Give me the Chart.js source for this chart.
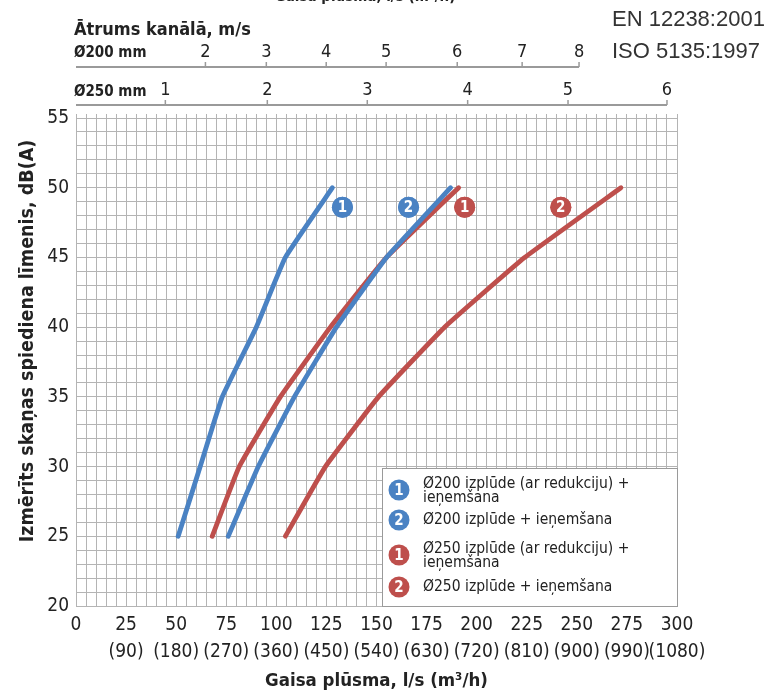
<!DOCTYPE html>
<html>
<head>
<meta charset="utf-8">
<script src="https://cdn.jsdelivr.net/npm/chart.js@4.4.1/dist/chart.umd.min.js"></script>
<style>
  html, body { margin: 0; padding: 0; background: #fff; }
  #wrap { width: 766px; height: 691px; }
</style>
</head>
<body>
<div id="wrap"><canvas id="chart"></canvas></div>
<script>
// Skaņas līmenis, dB(A)
const soundLevel = [25, 30, 35, 40, 45, 50];
// Gaisa plūsma, l/s katrai līknei
const flowD200Red = [51, 62, 73, 90, 104.5, 128];
const flowD200 = [76, 91, 109, 130, 155, 187];
const flowD250Red = [68, 81.5, 102, 127, 155, 191];
const flowD250 = [104.5, 124.5, 151, 184, 224, 272];

// numurētās zīmes pie līknēm
const badgeFlow = [133, 166, 194, 242];
const badgeLevel = 48.6;
const badgeText = ['1', '2', '1', '2'];

// apakšējā ass
const flowTicks = [0, 25, 50, 75, 100, 125, 150, 175, 200, 225, 250, 275, 300];
const m3hTicks = ['', '(90)', '(180)', '(270)', '(360)', '(450)', '(540)', '(630)', '(720)', '(810)', '(900)', '(990)', '(1080)'];

// augšējās ātruma skalas (m/s) un to vieta plūsmas skalā (l/s)
const speedD200 = [2, 3, 4, 5, 6, 7, 8];
const speedD200Flow = [64.6, 95, 124.9, 154.8, 190.3, 222.7, 251.1];
const speedD250 = [1, 2, 3, 4, 5, 6];
const speedD250Flow = [44.6, 95.5, 145.4, 195.5, 245.6, 295];

const legendItems = [
    { n: '1', color: 'blue', lines: ['Ø200 izplūde (ar redukciju) +', 'ieņemšana'] },
    { n: '2', color: 'blue', lines: ['Ø200 izplūde + ieņemšana'] },
    { n: '1', color: 'red', lines: ['Ø250 izplūde (ar redukciju) +', 'ieņemšana'] },
    { n: '2', color: 'red', lines: ['Ø250 izplūde + ieņemšana'] }
];

const BLUE = '#4a82c3';
const RED = '#be4f4c';
const GRID = '#b4b4b4';
const TEXT = '#222';
const FONT = "'Liberation Sans Narrow', 'DejaVu Sans Condensed', 'Roboto Condensed', sans-serif";

const toPoints = (flows) => flows.map((f, i) => ({ x: f, y: soundLevel[i] }));

const lineDs = (label, flows, color) => ({
    label,
    data: toPoints(flows),
    borderColor: color,
    borderWidth: 4.8,
    borderCapStyle: 'round',
    borderJoinStyle: 'round',
    pointRadius: 0,
    tension: 0.1,
    fill: false
});

const badgeColors = [BLUE, BLUE, RED, RED];

const badge = (ctx, x, y, color, txt) => {
    ctx.save();
    ctx.beginPath();
    ctx.arc(x, y, 10.5, 0, Math.PI * 2);
    ctx.fillStyle = color;
    ctx.fill();
    ctx.fillStyle = '#fff';
    ctx.font = "bold 15px " + FONT;
    ctx.textAlign = 'center';
    ctx.textBaseline = 'middle';
    ctx.fillText(txt, x, y + 1);
    ctx.restore();
};

const decorPlugin = {
    id: 'decor',
    afterDatasetsDraw(chart) {
        const ctx = chart.ctx;
        const meta = chart.getDatasetMeta(4);
        meta.data.forEach((pt, i) => {
            badge(ctx, pt.x, pt.y, badgeColors[i], badgeText[i]);
        });
    },
    afterDraw(chart) {
        const ctx = chart.ctx;
        const xs = chart.scales.x;
        const area = chart.chartArea;
        ctx.save();

        // leģenda
        const lx = 382, ly = 468;
        ctx.fillStyle = '#fff';
        ctx.fillRect(lx, ly, area.right - lx, area.bottom - ly);
        ctx.strokeStyle = '#9a9a9a';
        ctx.lineWidth = 1;
        ctx.strokeRect(lx + 0.5, ly + 0.5, area.right - lx, area.bottom - ly);
        const rows = [[490, [484, 498]], [520, [520]], [555, [549, 563]], [587, [587]]];
        legendItems.forEach((it, i) => {
            badge(ctx, 399, rows[i][0], it.color === 'blue' ? BLUE : RED, it.n);
            ctx.fillStyle = TEXT;
            ctx.font = "15.5px " + FONT;
            ctx.textAlign = 'left';
            ctx.textBaseline = 'middle';
            it.lines.forEach((t, k) => ctx.fillText(t, 423, rows[i][1][k]));
        });

        // augšējās skalas
        const topAxis = (speeds, flows, yLine, name, yName) => {
            const x0 = xs.getPixelForValue(0);
            const x1 = xs.getPixelForValue(flows[flows.length - 1]);
            ctx.strokeStyle = '#9a9a9a';
            ctx.lineWidth = 2;
            ctx.beginPath();
            ctx.moveTo(x0, yLine);
            ctx.lineTo(x1, yLine);
            ctx.stroke();
            ctx.lineWidth = 1.5;
            ctx.fillStyle = TEXT;
            ctx.font = "18px " + FONT;
            ctx.textAlign = 'center';
            ctx.textBaseline = 'middle';
            speeds.forEach((s, i) => {
                const px = xs.getPixelForValue(flows[i]);
                ctx.beginPath();
                ctx.moveTo(px, yLine);
                ctx.lineTo(px, yLine - 5);
                ctx.stroke();
                ctx.fillText(String(s), px, yLine - 15);
            });
            ctx.font = "bold 15px " + FONT;
            ctx.textAlign = 'left';
            ctx.fillText(name, 74, yName);
        };
        topAxis(speedD200, speedD200Flow, 67, 'Ø200 mm', 53);
        topAxis(speedD250, speedD250Flow, 105, 'Ø250 mm', 92);

        ctx.fillStyle = TEXT;
        ctx.font = "bold 18px " + FONT;
        ctx.textAlign = 'left';
        ctx.textBaseline = 'middle';
        ctx.fillText('Ātrums kanālā, m/s', 74, 30);

        ctx.font = "bold 15px " + FONT;
        ctx.textAlign = 'center';
        ctx.fillText('Gaisa plūsma, l/s (m³/h)', 365, -3);

        ctx.fillStyle = '#333';
        ctx.font = "22px 'Liberation Sans', Arial, sans-serif";
        ctx.textAlign = 'left';
        ctx.fillText('EN 12238:2001', 612, 20);
        ctx.fillText('ISO 5135:1997', 612, 52);

        // Y ass nosaukums
        ctx.save();
        ctx.translate(28, 341);
        ctx.rotate(-Math.PI / 2);
        ctx.fillStyle = TEXT;
        ctx.font = "bold 19.5px " + FONT;
        ctx.textAlign = 'center';
        ctx.fillText('Izmērīts skaņas spiediena līmenis, dB(A)', 0, 0);
        ctx.restore();

        ctx.restore();
    }
};

new Chart(document.getElementById('chart'), {
    type: 'line',
    data: {
        datasets: [
            lineDs('Ø200 izplūde (ar redukciju) + ieņemšana', flowD200Red, BLUE),
            lineDs('Ø200 izplūde + ieņemšana', flowD200, BLUE),
            lineDs('Ø250 izplūde (ar redukciju) + ieņemšana', flowD250Red, RED),
            lineDs('Ø250 izplūde + ieņemšana', flowD250, RED),
            {
                type: 'scatter',
                label: 'badges',
                data: badgeFlow.map(f => ({ x: f, y: badgeLevel })),
                pointRadius: 10.5,
                pointBackgroundColor: badgeColors,
                pointBorderWidth: 0,
                showLine: false
            }
        ]
    },
    options: {
        responsive: true,
        maintainAspectRatio: false,
        animation: false,
        layout: { padding: { top: 114, right: 89, left: 0, bottom: 0 } },
        plugins: {
            legend: { display: false },
            tooltip: { enabled: false }
        },
        scales: {
            x: {
                type: 'linear',
                position: 'bottom',
                min: 0,
                max: 300,
                afterFit: (s) => { s.height = 85; },
                grid: { color: GRID, drawTicks: false },
                border: { color: GRID },
                ticks: {
                    stepSize: 5,
                    autoSkip: false,
                    maxRotation: 0,
                    padding: 5,
                    color: TEXT,
                    font: { family: FONT, size: 19, lineHeight: 1.45 },
                    callback: (v) => {
                        const i = flowTicks.indexOf(v);
                        if (i < 0) return '';
                        return m3hTicks[i] ? [String(v), m3hTicks[i]] : String(v);
                    }
                },
                title: {
                    display: true,
                    text: 'Gaisa plūsma, l/s (m³/h)',
                    color: TEXT,
                    font: { family: FONT, size: 18.5, weight: 'bold', lineHeight: 1.1 },
                    padding: { top: 0, bottom: 0 }
                }
            },
            x2: {
                type: 'linear',
                position: 'top',
                min: 0,
                max: 300,
                afterFit: (s) => { s.height = 4; },
                grid: { color: GRID, drawOnChartArea: false, tickLength: 4 },
                border: { display: false },
                ticks: { stepSize: 5, autoSkip: false, display: false }
            },
            y: {
                min: 20,
                max: 55,
                afterFit: (s) => { s.width = 76; },
                grid: { color: GRID, drawTicks: false },
                border: { color: GRID },
                ticks: {
                    stepSize: 1,
                    autoSkip: false,
                    padding: 7,
                    color: TEXT,
                    font: { family: FONT, size: 19 },
                    callback: (v) => (v % 5 === 0 ? String(v) : '')
                }
            }
        }
    },
    plugins: [decorPlugin]
});
</script>
</body>
</html>
